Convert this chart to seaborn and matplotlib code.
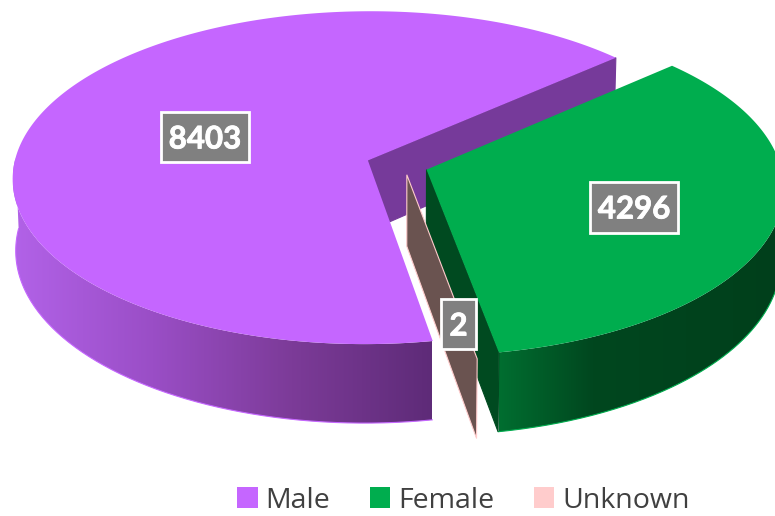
import numpy as np
import matplotlib
matplotlib.use('Agg')
import matplotlib.pyplot as plt
import matplotlib.patheffects as pe
import seaborn as sns
from matplotlib.patches import Patch, Polygon, Rectangle

categories = ['Male', 'Female', 'Unknown']
values = [8403, 4296, 2]

sns.set_theme(style='white')
plt.rcParams['font.family'] = ['Open Sans', 'DejaVu Sans']

top_colors = ['#C566FF', '#00AD4E', '#FFCCCC']

# 3d look of the pie: disc is projected by hand on pixel coordinates
first_angle = 170
explode = 0.085
nudge_u = [-0.005, 0, 0.01]
nudge_v = [0, 0, 0.025]
depth = 71
cx, cy = 398, 165
rx, ry = 354, 165.6
persp = 0.104
bottom_shrink = 0.008


def project(u, v, z=0):
    s = 1 / (1 + persp * v)
    return cx + rx * u * s * (1 - bottom_shrink * z / depth), cy - ry * v * s + z * s


def unit(deg):
    a = np.radians(deg)
    return np.sin(a), np.cos(a)


fig = plt.figure(figsize=(7.75, 5.16), dpi=100)
ax = fig.add_axes([0, 0, 1, 1])
ax.axis('off')

# slice angles from the values, clockwise from north
fracs = np.array(values) / sum(values) * 360
starts = first_angle + np.concatenate([[0], np.cumsum(fracs)[:-1]])
ends = starts + fracs


def apex(i):
    ex, ey = unit((starts[i] + ends[i]) / 2)
    return ex * explode + nudge_u[i], ey * explode + nudge_v[i]


def rim_point(i, deg):
    ax0, ay0 = apex(i)
    ux, uy = unit(deg)
    return ax0 + ux, ay0 + uy


def cut_face(i, deg, color, zorder, edge=None):
    a = apex(i)
    r = rim_point(i, deg)
    pts = [project(*a), project(*r), project(*r, depth), project(*a, depth)]
    ax.fill(*zip(*pts), fc=color, lw=0.8, ec=edge or color, zorder=zorder)


def draw_rim(i, cmap, x0, x1, edge, zorder):
    # only the front of the rim can be seen
    angles = np.linspace(starts[i], ends[i], 400)
    angles = angles[[unit(a)[1] <= 0.02 for a in angles]]
    upper = [project(*rim_point(i, a)) for a in angles]
    lower = [project(*rim_point(i, a), depth) for a in angles]
    poly = Polygon(upper + lower[::-1], transform=ax.transData, fc='none', ec='none')
    ax.add_patch(poly)
    grad = np.linspace(0, 1, 256)[None, :]
    im = ax.imshow(grad, extent=(x0, x1, 516, 0), cmap=cmap, aspect='auto', zorder=zorder)
    im.set_clip_path(poly)
    ax.plot(*zip(*lower), color=edge, lw=0.8, zorder=zorder)


def draw_top(i, zorder):
    angles = np.linspace(starts[i], ends[i], 240)
    pts = [project(*apex(i))] + [project(*rim_point(i, a)) for a in angles]
    ax.fill(*zip(*pts), color=top_colors[i], lw=0, zorder=zorder)


male_cmap = sns.blend_palette(['#B262E8', '#9A4EC6', '#7C3B98', '#5E2B78'], as_cmap=True)
female_cmap = sns.blend_palette(['#006E30', '#00471F', '#00431D', '#003F1B'], as_cmap=True)

# male
cut_face(0, ends[0], '#763A9A', 1)
draw_rim(0, male_cmap, 13, 432, '#C566FF', 2)
draw_top(0, 3)

# female
draw_rim(1, female_cmap, 499, 780, '#00AD4E', 4)
cut_face(1, ends[1], '#004A20', 5)
draw_top(1, 6)

# unknown is only a sliver, the cut is what you see
cut_face(2, starts[2], '#6A5350', 7, edge='#FFCCCC')

ax.set_xlim(0, 775)
ax.set_ylim(516, 0)


def label(i, x, y, w, h):
    ax.add_patch(Rectangle((x - w / 2, y - h / 2), w, h, fc='#808080', ec='white', lw=2, zorder=9))
    ax.text(x, y, str(values[i]), color='white', fontsize=22.5, fontweight='bold', family=['Lato', 'DejaVu Sans'],
            ha='center', va='center_baseline', zorder=10,
            path_effects=[pe.withStroke(linewidth=0.6, foreground='white')])


label(0, 205, 137, 88, 50)
label(1, 634, 207, 88, 51)
label(2, 458.5, 324, 35, 50)

handles = [Patch(fc=c, ec='none') for c in top_colors]
leg = ax.legend(handles, categories, loc='lower left', bbox_to_anchor=(217.5 / 775, -18.5 / 516), ncol=3, frameon=False,
                fontsize=20.5, handlelength=0.72, handleheight=0.75, handletextpad=0.27, columnspacing=1.39,
                labelcolor='#404040', borderpad=0.2)

fig.savefig('out.png', dpi=100)
